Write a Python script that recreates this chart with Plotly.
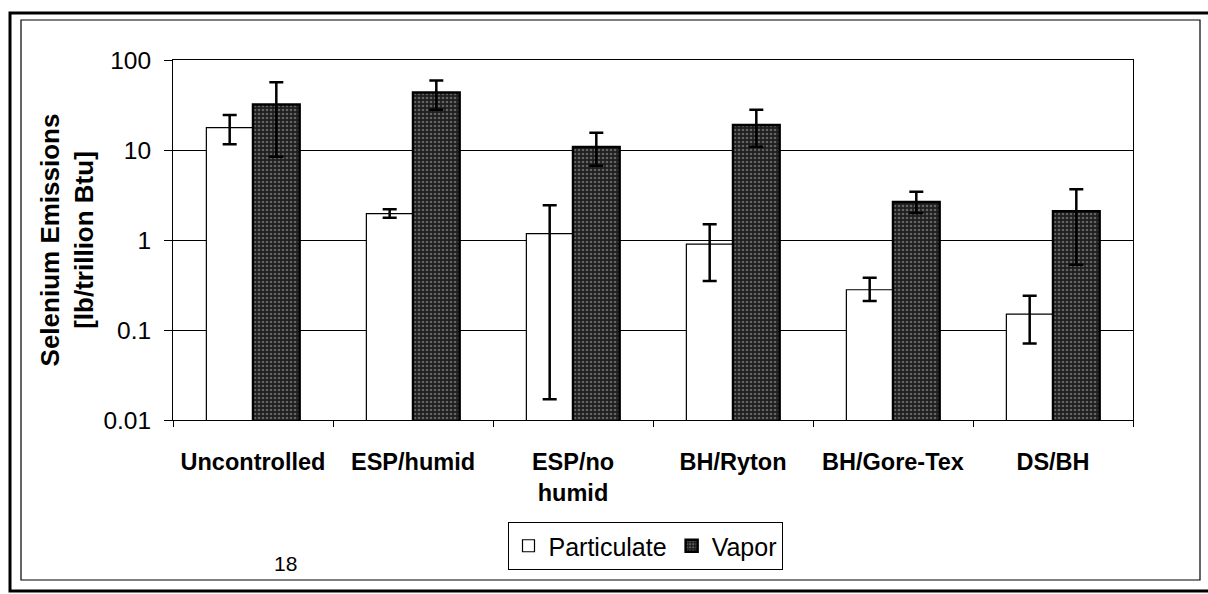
import plotly.graph_objects as go

# ---- data ----
categories = ["Uncontrolled", "ESP/humid", "ESP/no<br>humid", "BH/Ryton", "BH/Gore-Tex", "DS/BH"]
particulate = [17.7, 1.96, 1.18, 0.90, 0.28, 0.15]
particulate_hi = [24.5, 2.20, 2.44, 1.50, 0.38, 0.24]
particulate_lo = [11.6, 1.77, 0.017, 0.35, 0.21, 0.071]
vapor = [32.0, 43.5, 10.8, 19.0, 2.65, 2.08]
vapor_hi = [56.5, 59.0, 15.5, 28.0, 3.43, 3.67]
vapor_lo = [8.4, 28.0, 6.7, 10.9, 2.00, 0.53]
ytick_vals = [0.01, 0.1, 1, 10, 100]
ytick_text = ["0.01", "0.1", "1", "10", "100"]

W, H = 1208, 594
L, R, T, B = 173, 1133, 60, 420  # plot area in pixels
FONT = "Liberation Sans, Arial, sans-serif"


def px(x):
    return (x - L) / (R - L)


def py(y):
    return (B - y) / (B - T)


def err(vals, hi, lo):
    return dict(type="data", symmetric=False,
                array=[h - v for v, h in zip(vals, hi)],
                arrayminus=[v - l for v, l in zip(vals, lo)],
                color="black", thickness=2.5, width=7)


fig = go.Figure()
fig.add_trace(go.Bar(
    x=categories, y=particulate, name="Particulate",
    marker=dict(color="white", line=dict(color="black", width=1.2)),
    error_y=err(particulate, particulate_hi, particulate_lo),
))
fig.add_trace(go.Bar(
    x=categories, y=vapor, name="Vapor",
    marker=dict(color="#1e1e1e", line=dict(color="black", width=2.5),
                pattern=dict(shape=".", fgcolor="#a8a8a8", size=4, solidity=0.35,
                             fillmode="overlay")),
    error_y=err(vapor, vapor_hi, vapor_lo),
))

fig.update_layout(
    width=W, height=H,
    margin=dict(l=L, r=W - R, t=T, b=H - B, pad=0),
    paper_bgcolor="white", plot_bgcolor="white",
    barmode="group", bargap=0.417, bargroupgap=0,
    font=dict(family=FONT, color="black", size=24),
    showlegend=True,
    legend=dict(orientation="h", x=px(645), y=py(522), xanchor="center", yanchor="top",
                bordercolor="black", borderwidth=1, bgcolor="white",
                font=dict(size=25), itemwidth=30, tracegroupgap=0),
)

fig.update_xaxes(
    type="category", showline=True, linecolor="black", linewidth=1, mirror=True,
    ticks="outside", tickson="boundaries", ticklen=6, tickcolor="black",
    showgrid=False, tickfont=dict(size=23.5, family=FONT, weight="bold"),
    ticklabelstandoff=21,
)
fig.update_yaxes(
    type="log", range=[-2, 2], showline=True, linecolor="black", linewidth=1, mirror=True,
    ticks="outside", ticklen=8, tickcolor="black",
    tickvals=ytick_vals, ticktext=ytick_text,
    showgrid=True, gridcolor="black", gridwidth=1,
    tickfont=dict(size=24.5, family=FONT), ticklabelstandoff=8,
    title=dict(text="Selenium Emissions<br>[lb/trillion Btu]",
               font=dict(size=26, family=FONT, weight="bold"), standoff=2),
)

# chart-area frames (decoration of the scanned page)
fig.add_shape(type="rect", xref="paper", yref="paper",
              x0=px(21), x1=px(1200), y0=py(580), y1=py(20),
              line=dict(color="black", width=1.2), layer="below")
fig.add_shape(type="rect", xref="paper", yref="paper",
              x0=px(10), x1=px(1212), y0=py(591), y1=py(13),
              line=dict(color="black", width=3), layer="below")

fig.add_annotation(text="18", xref="paper", yref="paper", x=px(285), y=py(563),
                   yanchor="middle", xanchor="center",
                   showarrow=False, font=dict(size=21, family=FONT))

fig.write_html("out.html")
